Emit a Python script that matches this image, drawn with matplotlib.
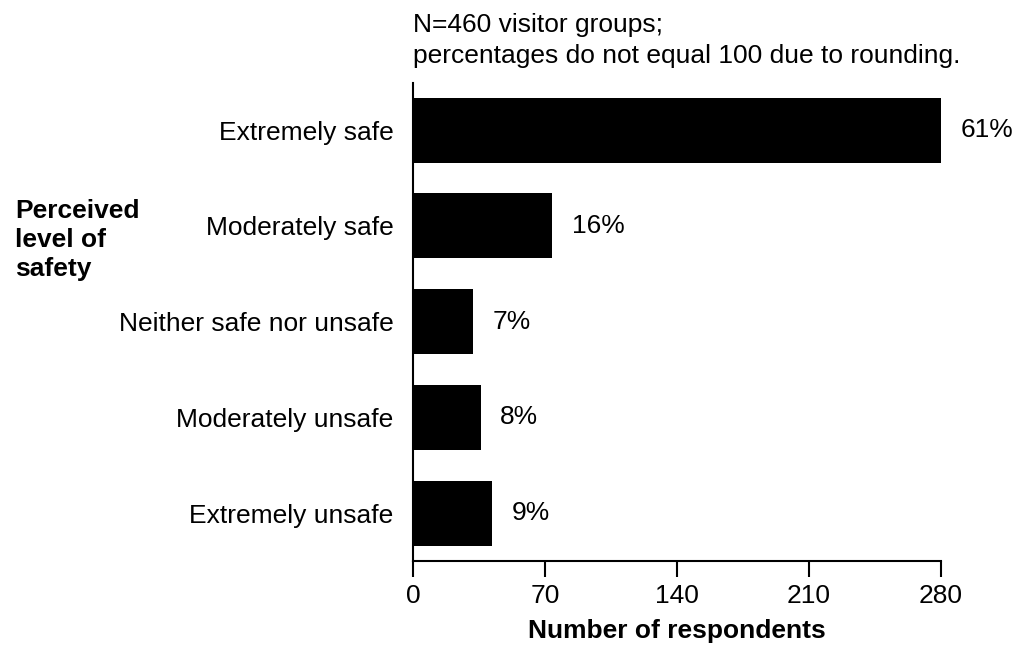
import numpy as np
import matplotlib.pyplot as plt

plt.rcParams['font.family'] = ['Liberation Sans', 'DejaVu Sans']

categories = ['Extremely safe', 'Moderately safe', 'Neither safe nor unsafe',
              'Moderately unsafe', 'Extremely unsafe']
counts = [280, 74, 32, 36, 42]
pct_labels = ['61%', '16%', '7%', '8%', '9%']
xticks = [0, 70, 140, 210, 280]
note_lines = ['N=460 visitor groups;', 'percentages do not equal 100 due to rounding.']
group_lines = ['Perceived', 'level of', 'safety']

fig = plt.figure(figsize=(10.21, 6.45), dpi=100)
ax = fig.add_axes([0.4045, 0.130, 0.517, 0.741])

y = np.arange(len(categories))
ax.barh(y, counts, height=0.68, color='black')
ax.set_ylim(len(categories) - 0.5, -0.49)
ax.set_xlim(0, 280)

for yi, c, lab in zip(y, counts, pct_labels):
    ax.annotate(lab, (c, yi), xytext=(14, 0), textcoords='offset points',
                va='center', ha='left', fontsize=19)

ax.set_yticks(y)
ax.set_yticklabels(categories, fontsize=19)
ax.tick_params(axis='y', length=0, pad=14)
ax.set_xticks(xticks)
ax.tick_params(axis='x', labelsize=19, length=11.5, width=1.5, direction='out', pad=5)
ax.set_xlabel('Number of respondents', fontsize=19, fontweight='bold', labelpad=8)

for s in ['top', 'right']:
    ax.spines[s].set_visible(False)
for s in ['left', 'bottom']:
    ax.spines[s].set_linewidth(1.5)

# note above the plot, baselines at ~32 and ~63 px from the top
for i, line in enumerate(note_lines):
    fig.text(0.4045, 1 - (32 + 31 * i) / 645, line, fontsize=19,
             va='baseline', ha='left')

# bold axis title on the left
for i, line in enumerate(group_lines):
    fig.text(0.015, 1 - (218 + 29 * i) / 645, line, fontsize=19,
             fontweight='bold', va='baseline', ha='left')

fig.savefig('out.png', dpi=100)
